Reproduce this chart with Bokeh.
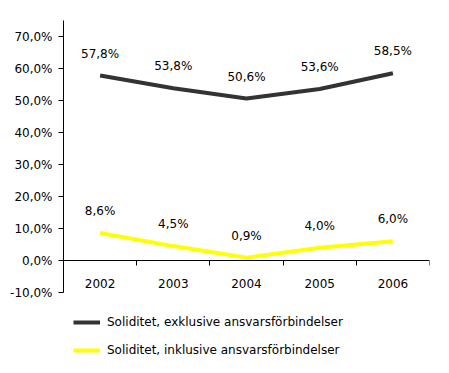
from bokeh.plotting import figure
from bokeh.models import (ColumnDataSource, FixedTicker, Legend, LegendItem,
                          CustomJSTickFormatter, Range1d)
from bokeh.embed import file_html
from bokeh.resources import INLINE

years = ["2002", "2003", "2004", "2005", "2006"]
excl = [57.8, 53.8, 50.6, 53.6, 58.5]
incl = [8.6, 4.5, 0.9, 4.0, 6.0]
y_ticks = [-10, 0, 10, 20, 30, 40, 50, 60, 70]
series_names = ["Soliditet, exklusive ansvarsförbindelser",
                "Soliditet, inklusive ansvarsförbindelser"]
colors = ["#333333", "#FFFF00"]

FONT = "DejaVu Sans"
xs = [i + 0.5 for i in range(len(years))]

def fmt(v):
    return ("%.1f" % v).replace(".", ",") + "%"

# the frame extends below the value axis to leave room for the legend
p = figure(width=433, height=357, output_backend="svg", toolbar_location=None,
           x_range=Range1d(0, len(years)), y_range=Range1d(-30.3125, 75),
           min_border_left=63, min_border_right=4, min_border_top=20,
           min_border_bottom=0, background_fill_color="white",
           border_fill_color="white")
p.outline_line_color = None
p.grid.visible = False

# y axis
p.yaxis.bounds = (-10, 75)
p.yaxis.ticker = FixedTicker(ticks=y_ticks, minor_ticks=[])
p.yaxis.formatter = CustomJSTickFormatter(
    code="return tick.toFixed(1).replace('.', ',') + '%';")
p.yaxis.major_tick_out = 5
p.yaxis.major_tick_in = 0
p.yaxis.minor_tick_out = 0
p.yaxis.major_label_standoff = 6
p.yaxis.axis_line_color = "black"
p.yaxis.major_tick_line_color = "black"
p.yaxis.major_label_text_font = FONT
p.yaxis.major_label_text_font_size = "12px"
p.yaxis.major_label_text_color = "black"

# x axis placed at y = 0
xa = p.xaxis[0]
xa.fixed_location = 0
xa.ticker = FixedTicker(ticks=xs, minor_ticks=list(range(len(years) + 1)))
xa.major_label_overrides = {x: y for x, y in zip(xs, years)}
xa.major_tick_out = 0
xa.major_tick_in = 0
xa.minor_tick_out = 5
xa.minor_tick_in = 0
xa.minor_tick_line_color = "black"
xa.axis_line_color = "black"
xa.major_label_standoff = 13
xa.major_label_text_font = FONT
xa.major_label_text_font_size = "12px"
xa.major_label_text_color = "black"

items = []
for vals, name, c in zip([excl, incl], series_names, colors):
    src = ColumnDataSource(dict(x=xs, y=vals, lbl=[fmt(v) for v in vals]))
    r = p.line("x", "y", source=src, line_color=c, line_width=4)
    p.text("x", "y", text="lbl", source=src, text_align="center",
           text_baseline="middle", y_offset=-22, text_font_size="12px",
           text_font={"value": FONT}, text_color="black")
    items.append(LegendItem(label=name, renderers=[r]))

legend = Legend(items=items, location=(10, 0), orientation="vertical",
                glyph_width=27, glyph_height=12, label_height=12,
                label_standoff=7, spacing=14, padding=0, margin=0,
                border_line_color=None, background_fill_alpha=0,
                label_text_font=FONT, label_text_font_size="12px",
                label_text_color="black")
p.add_layout(legend, "center")

open("out.html", "w").write(file_html(p, INLINE))
